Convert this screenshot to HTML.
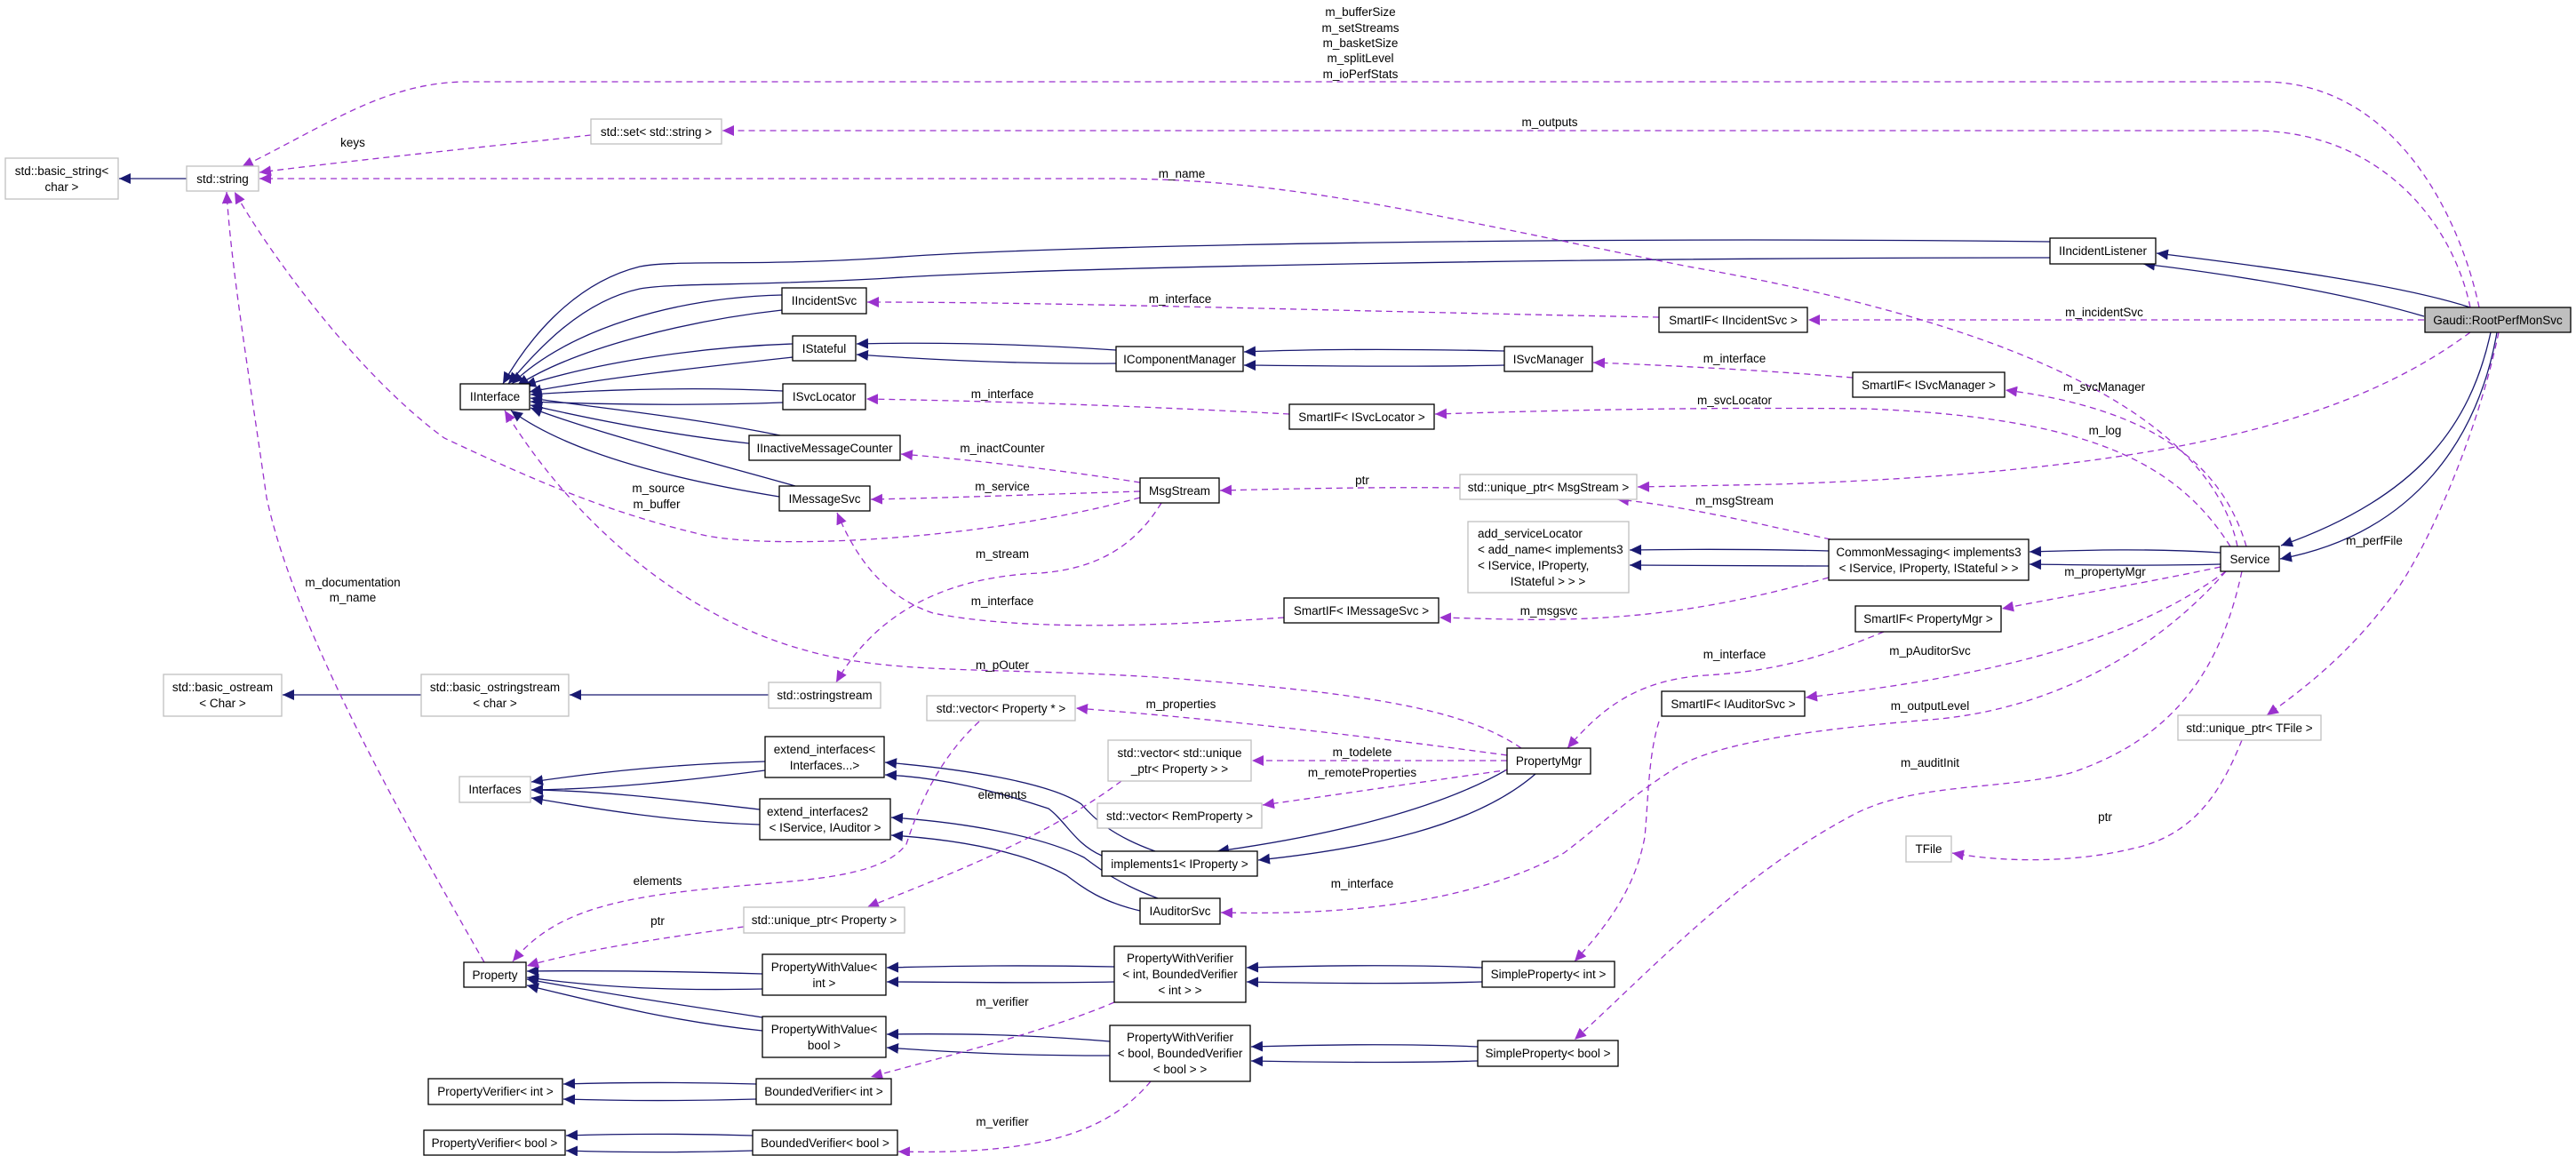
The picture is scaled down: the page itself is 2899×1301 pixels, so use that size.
<!DOCTYPE html>
<html><head><meta charset="utf-8"><style>
html,body{margin:0;padding:0;background:#fff}
svg{display:block}
text{font-family:"Liberation Sans",sans-serif;font-size:13.5px;fill:#000}
.n{fill:#fff;stroke:#000;stroke-width:1.3}
.g{fill:#fff;stroke:#bfbfbf;stroke-width:1.3}
.b{fill:none;stroke:#191970;stroke-width:1.3}
.p{fill:none;stroke:#9a32cd;stroke-width:1.3;stroke-dasharray:7,5}
</style></head><body>
<svg width="2899" height="1301" viewBox="0 0 2899 1301" xmlns="http://www.w3.org/2000/svg">
<defs>
<marker id="ab" markerUnits="userSpaceOnUse" markerWidth="14" markerHeight="12" refX="13" refY="6" orient="auto"><path d="M0,0 L13,6 L0,12 z" fill="#191970"/></marker>
<marker id="ap" markerUnits="userSpaceOnUse" markerWidth="14" markerHeight="12" refX="13" refY="6" orient="auto"><path d="M0,0 L13,6 L0,12 z" fill="#9a32cd"/></marker>
</defs>

<!-- blue inheritance edges -->
<g class="b" marker-end="url(#ab)">
<path d="M210,201 L134,201"/>
<path d="M474,782 L318,782"/>
<path d="M865,782 L641,782"/>
<path d="M2307,272 C1800,266 1200,275 1000,290 C850,300 760,292 720,300 C640,320 590,390 566,432"/>
<path d="M2307,290 C1800,290 1200,300 1000,313 C850,322 760,318 720,325 C650,340 600,400 572,432"/>
<path d="M880,332 C760,335 640,370 576,432"/>
<path d="M880,349 C780,360 650,390 582,434"/>
<path d="M892,387 C800,390 680,405 590,434"/>
<path d="M892,402 C800,412 680,425 596,441"/>
<path d="M881,440 C800,436 700,437 597,444"/>
<path d="M881,453 C800,456 700,456 597,452"/>
<path d="M878,490 C780,470 680,460 597,448"/>
<path d="M843,499 C760,490 680,475 597,456"/>
<path d="M895,547 C800,520 680,490 597,459"/>
<path d="M877,559 C760,540 640,510 575,462"/>
<path d="M1256,394 C1150,387 1050,385 964,387"/>
<path d="M1256,409 C1150,410 1050,405 964,399"/>
<path d="M1693,395 C1600,393 1500,392 1400,396"/>
<path d="M1693,411 C1600,413 1500,412 1400,411"/>
<path d="M2780,346 C2700,320 2550,300 2427,285"/>
<path d="M2728,356 C2640,330 2520,310 2412,297"/>
<path d="M2803,374 C2780,480 2720,560 2567,614"/>
<path d="M2810,374 C2790,490 2720,600 2566,629"/>
<path d="M2499,622 C2420,617 2350,619 2284,621"/>
<path d="M2499,635 C2420,637 2350,636 2284,635"/>
<path d="M2058,620 C1980,618 1900,618 1834,619"/>
<path d="M2058,637 C1980,637 1900,636 1834,636"/>
<path d="M861,857 C760,860 680,868 598,880"/>
<path d="M861,867 C760,880 680,888 598,889"/>
<path d="M855,911 C760,900 680,890 598,889"/>
<path d="M855,928 C760,925 680,912 598,898"/>
<path d="M1300,958 C1250,940 1230,920 1217,905 C1180,880 1080,865 996,858"/>
<path d="M1240,963 C1210,950 1200,925 1180,910 C1120,890 1060,875 996,872"/>
<path d="M1303,1011 C1260,995 1240,980 1220,965 C1170,940 1080,925 1003,920"/>
<path d="M1283,1025 C1240,1015 1220,1000 1200,985 C1150,958 1080,945 1003,940"/>
<path d="M1696,866 C1620,910 1500,940 1370,958"/>
<path d="M1728,871 C1660,930 1540,955 1416,968"/>
<path d="M858,1096 C760,1093 680,1092 593,1093"/>
<path d="M858,1113 C760,1115 680,1112 593,1100"/>
<path d="M858,1145 C760,1130 680,1118 593,1102"/>
<path d="M858,1160 C760,1150 680,1130 593,1109"/>
<path d="M1254,1088 C1150,1086 1080,1087 998,1089"/>
<path d="M1254,1105 C1150,1107 1080,1105 998,1105"/>
<path d="M1249,1172 C1150,1164 1080,1163 998,1164"/>
<path d="M1249,1188 C1150,1188 1080,1185 998,1179"/>
<path d="M1668,1089 C1600,1086 1500,1086 1403,1089"/>
<path d="M1668,1105 C1600,1107 1500,1107 1403,1105"/>
<path d="M1663,1178 C1600,1175 1500,1175 1408,1178"/>
<path d="M1663,1194 C1600,1196 1500,1196 1408,1194"/>
<path d="M851,1220 C780,1218 700,1218 634,1220"/>
<path d="M851,1237 C780,1239 700,1239 634,1237"/>
<path d="M847,1278 C780,1276 700,1276 637,1278"/>
<path d="M847,1295 C780,1297 700,1297 637,1295"/>
</g>

<!-- purple dashed edges -->
<g class="p" marker-end="url(#ap)">
<path d="M2790,346 C2770,250 2700,95 2550,92 L520,92 C430,95 370,140 272,188"/>
<path d="M2780,346 C2760,250 2680,150 2540,147 L813,147"/>
<path d="M665,152 C550,165 400,180 292,194"/>
<path d="M2518,615 C2490,480 2300,370 1900,300 C1600,240 1450,201 1250,201 L292,201"/>
<path d="M2728,360 L2035,360"/>
<path d="M1867,357 C1500,350 1200,340 976,340"/>
<path d="M2528,615 C2500,520 2420,460 2257,439"/>
<path d="M2085,425 C2000,418 1900,412 1793,408"/>
<path d="M2510,615 C2450,520 2350,470 2100,460 C1900,458 1750,462 1615,466"/>
<path d="M1451,466 C1300,458 1150,452 975,449"/>
<path d="M2780,374 C2650,470 2450,530 2000,545 L1843,548"/>
<path d="M1643,549 C1550,548 1450,550 1373,552"/>
<path d="M2060,607 C1980,590 1900,570 1820,562"/>
<path d="M1283,543 C1200,530 1100,518 1014,511"/>
<path d="M1283,553 C1180,556 1080,560 980,562"/>
<path d="M1283,560 C1100,610 850,620 783,600 C680,575 600,540 500,493 C400,420 300,280 264,216"/>
<path d="M1712,842 C1650,800 1550,780 1300,762 C1100,750 1000,760 900,730 C760,690 640,580 568,462"/>
<path d="M1307,566 C1280,610 1240,640 1170,645 C1050,650 980,700 941,768"/>
<path d="M1445,695 C1300,705 1150,710 1050,690 C990,670 960,620 942,577"/>
<path d="M2058,650 C1950,680 1850,700 1700,697 L1620,695"/>
<path d="M2499,638 C2420,655 2330,670 2253,685"/>
<path d="M2120,711 C2050,740 2000,755 1920,760 C1840,765 1800,800 1764,842"/>
<path d="M2505,643 C2400,720 2250,760 2032,785"/>
<path d="M2505,643 C2420,740 2300,800 2172,810 C2050,820 1930,835 1883,866 C1830,900 1800,930 1760,960 C1650,1020 1500,1030 1374,1027"/>
<path d="M1867,812 C1855,850 1855,900 1851,942 C1840,1000 1810,1040 1772,1082"/>
<path d="M2523,643 C2500,750 2450,830 2330,870 C2250,890 2150,880 2080,920 C1950,990 1850,1100 1772,1170"/>
<path d="M2812,374 C2790,480 2740,600 2700,660 C2650,730 2600,770 2551,805"/>
<path d="M2523,833 C2500,890 2470,940 2400,955 C2330,972 2250,970 2197,960"/>
<path d="M1696,850 C1550,830 1380,810 1211,797"/>
<path d="M1696,856 L1409,856"/>
<path d="M1700,866 C1600,880 1500,895 1421,906"/>
<path d="M1102,812 C1050,860 1030,920 1020,950 C990,990 900,990 800,1000 C680,1012 620,1030 577,1082"/>
<path d="M1262,879 C1180,940 1080,980 976,1021"/>
<path d="M837,1043 C750,1055 660,1068 593,1087"/>
<path d="M545,1083 C440,900 330,700 300,560 C280,420 260,300 255,216"/>
<path d="M1254,1128 C1180,1160 1060,1190 980,1212"/>
<path d="M1295,1217 C1250,1270 1180,1300 1011,1296"/>
</g>

<!-- nodes -->
<g>
<rect class="g" x="6" y="178" width="127" height="46"/><text x="69.5" y="197" text-anchor="middle">std::basic_string&lt;</text><text x="69.5" y="215" text-anchor="middle">char &gt;</text>
<rect class="g" x="210" y="187" width="81" height="28"/><text x="250.5" y="206" text-anchor="middle">std::string</text>
<rect class="g" x="665" y="134" width="147" height="28"/><text x="738.5" y="153" text-anchor="middle">std::set&lt; std::string &gt;</text>
<rect class="n" x="2307" y="268" width="119" height="29"/><text x="2366.5" y="287" text-anchor="middle">IIncidentListener</text>
<rect class="n" x="880" y="324" width="95" height="29"/><text x="927.5" y="343" text-anchor="middle">IIncidentSvc</text>
<rect class="n" x="1867" y="346" width="167" height="28"/><text x="1950.5" y="365" text-anchor="middle">SmartIF&lt; IIncidentSvc &gt;</text>
<rect x="2729" y="346" width="164" height="28" fill="#bfbfbf" stroke="#000" stroke-width="1.3"/><text x="2811" y="365" text-anchor="middle">Gaudi::RootPerfMonSvc</text>
<rect class="n" x="892" y="378" width="71" height="28"/><text x="927.5" y="397" text-anchor="middle">IStateful</text>
<rect class="n" x="1256" y="390" width="143" height="28"/><text x="1327.5" y="409" text-anchor="middle">IComponentManager</text>
<rect class="n" x="1693" y="390" width="99" height="28"/><text x="1742.5" y="409" text-anchor="middle">ISvcManager</text>
<rect class="n" x="2085" y="419" width="171" height="28"/><text x="2170.5" y="438" text-anchor="middle">SmartIF&lt; ISvcManager &gt;</text>
<rect class="n" x="518" y="432" width="78" height="29"/><text x="557" y="451" text-anchor="middle">IInterface</text>
<rect class="n" x="881" y="432" width="93" height="29"/><text x="927.5" y="451" text-anchor="middle">ISvcLocator</text>
<rect class="n" x="1451" y="455" width="163" height="28"/><text x="1532.5" y="474" text-anchor="middle">SmartIF&lt; ISvcLocator &gt;</text>
<rect class="n" x="843" y="490" width="170" height="28"/><text x="928" y="509" text-anchor="middle">IInactiveMessageCounter</text>
<rect class="n" x="1283" y="538" width="89" height="28"/><text x="1327.5" y="557" text-anchor="middle">MsgStream</text>
<rect class="g" x="1643" y="534" width="199" height="28"/><text x="1742.5" y="553" text-anchor="middle">std::unique_ptr&lt; MsgStream &gt;</text>
<rect class="n" x="877" y="547" width="102" height="28"/><text x="928" y="566" text-anchor="middle">IMessageSvc</text>
<rect class="g" x="1652" y="587" width="181" height="80"/><text x="1663" y="605">add_serviceLocator</text><text x="1663" y="623">&lt; add_name&lt; implements3</text><text x="1663" y="641">&lt; IService, IProperty,</text><text x="1742" y="659" text-anchor="middle">IStateful &gt; &gt; &gt;</text>
<rect class="n" x="2058" y="607" width="225" height="46"/><text x="2170.5" y="626" text-anchor="middle">CommonMessaging&lt; implements3</text><text x="2170.5" y="644" text-anchor="middle">&lt; IService, IProperty, IStateful &gt; &gt;</text>
<rect class="n" x="2499" y="615" width="66" height="28"/><text x="2532" y="634" text-anchor="middle">Service</text>
<rect class="n" x="1445" y="673" width="174" height="28"/><text x="1532" y="692" text-anchor="middle">SmartIF&lt; IMessageSvc &gt;</text>
<rect class="n" x="2088" y="682" width="164" height="29"/><text x="2170" y="701" text-anchor="middle">SmartIF&lt; PropertyMgr &gt;</text>
<rect class="g" x="184" y="759" width="133" height="47"/><text x="250.5" y="778" text-anchor="middle">std::basic_ostream</text><text x="250.5" y="796" text-anchor="middle">&lt; Char &gt;</text>
<rect class="g" x="474" y="759" width="166" height="47"/><text x="557" y="778" text-anchor="middle">std::basic_ostringstream</text><text x="557" y="796" text-anchor="middle">&lt; char &gt;</text>
<rect class="g" x="865" y="768" width="126" height="29"/><text x="928" y="787" text-anchor="middle">std::ostringstream</text>
<rect class="n" x="1870" y="778" width="161" height="28"/><text x="1950.5" y="797" text-anchor="middle">SmartIF&lt; IAuditorSvc &gt;</text>
<rect class="g" x="1043" y="783" width="167" height="28"/><text x="1126.5" y="802" text-anchor="middle">std::vector&lt; Property * &gt;</text>
<rect class="g" x="2451" y="805" width="161" height="28"/><text x="2531.5" y="824" text-anchor="middle">std::unique_ptr&lt; TFile &gt;</text>
<rect class="n" x="861" y="829" width="134" height="46"/><text x="928" y="848" text-anchor="middle">extend_interfaces&lt;</text><text x="928" y="866" text-anchor="middle">Interfaces...&gt;</text>
<rect class="g" x="1247" y="833" width="161" height="46"/><text x="1327.5" y="852" text-anchor="middle">std::vector&lt; std::unique</text><text x="1327.5" y="870" text-anchor="middle">_ptr&lt; Property &gt; &gt;</text>
<rect class="n" x="1696" y="842" width="94" height="29"/><text x="1743" y="861" text-anchor="middle">PropertyMgr</text>
<rect class="g" x="517" y="874" width="80" height="29"/><text x="557" y="893" text-anchor="middle">Interfaces</text>
<rect class="n" x="855" y="899" width="147" height="46"/><text x="863" y="918">extend_interfaces2</text><text x="928.5" y="936" text-anchor="middle">&lt; IService, IAuditor &gt;</text>
<rect class="g" x="1235" y="904" width="185" height="28"/><text x="1327.5" y="923" text-anchor="middle">std::vector&lt; RemProperty &gt;</text>
<rect class="g" x="2145" y="941" width="51" height="29"/><text x="2170.5" y="960" text-anchor="middle">TFile</text>
<rect class="n" x="1240" y="958" width="175" height="28"/><text x="1327.5" y="977" text-anchor="middle">implements1&lt; IProperty &gt;</text>
<rect class="n" x="1283" y="1011" width="90" height="29"/><text x="1328" y="1030" text-anchor="middle">IAuditorSvc</text>
<rect class="g" x="837" y="1021" width="181" height="29"/><text x="927.5" y="1040" text-anchor="middle">std::unique_ptr&lt; Property &gt;</text>
<rect class="n" x="1254" y="1065" width="148" height="63"/><text x="1328" y="1083" text-anchor="middle">PropertyWithVerifier</text><text x="1328" y="1101" text-anchor="middle">&lt; int, BoundedVerifier</text><text x="1328" y="1119" text-anchor="middle">&lt; int &gt; &gt;</text>
<rect class="n" x="858" y="1074" width="139" height="46"/><text x="927.5" y="1093" text-anchor="middle">PropertyWithValue&lt;</text><text x="927.5" y="1111" text-anchor="middle">int &gt;</text>
<rect class="n" x="522" y="1083" width="70" height="28"/><text x="557" y="1102" text-anchor="middle">Property</text>
<rect class="n" x="1668" y="1082" width="149" height="29"/><text x="1742.5" y="1101" text-anchor="middle">SimpleProperty&lt; int &gt;</text>
<rect class="n" x="858" y="1144" width="139" height="46"/><text x="927.5" y="1163" text-anchor="middle">PropertyWithValue&lt;</text><text x="927.5" y="1181" text-anchor="middle">bool &gt;</text>
<rect class="n" x="1249" y="1154" width="158" height="63"/><text x="1328" y="1172" text-anchor="middle">PropertyWithVerifier</text><text x="1328" y="1190" text-anchor="middle">&lt; bool, BoundedVerifier</text><text x="1328" y="1208" text-anchor="middle">&lt; bool &gt; &gt;</text>
<rect class="n" x="1663" y="1171" width="158" height="29"/><text x="1742" y="1190" text-anchor="middle">SimpleProperty&lt; bool &gt;</text>
<rect class="n" x="482" y="1214" width="151" height="29"/><text x="557.5" y="1233" text-anchor="middle">PropertyVerifier&lt; int &gt;</text>
<rect class="n" x="851" y="1214" width="152" height="29"/><text x="927" y="1233" text-anchor="middle">BoundedVerifier&lt; int &gt;</text>
<rect class="n" x="477" y="1272" width="159" height="28"/><text x="556.5" y="1291" text-anchor="middle">PropertyVerifier&lt; bool &gt;</text>
<rect class="n" x="847" y="1272" width="163" height="28"/><text x="928.5" y="1291" text-anchor="middle">BoundedVerifier&lt; bool &gt;</text>
</g>

<!-- edge labels -->
<g text-anchor="middle">
<text x="1531" y="18">m_bufferSize</text>
<text x="1531" y="36">m_setStreams</text>
<text x="1531" y="53">m_basketSize</text>
<text x="1531" y="70">m_splitLevel</text>
<text x="1531" y="88">m_ioPerfStats</text>
<text x="1744" y="142">m_outputs</text>
<text x="397" y="165">keys</text>
<text x="1330" y="200">m_name</text>
<text x="1328" y="341">m_interface</text>
<text x="2368" y="356">m_incidentSvc</text>
<text x="1952" y="408">m_interface</text>
<text x="2368" y="440">m_svcManager</text>
<text x="1128" y="448">m_interface</text>
<text x="1952" y="455">m_svcLocator</text>
<text x="2369" y="489">m_log</text>
<text x="1128" y="509">m_inactCounter</text>
<text x="1533" y="545">ptr</text>
<text x="1128" y="552">m_service</text>
<text x="741" y="554">m_source</text>
<text x="739" y="572">m_buffer</text>
<text x="1952" y="568">m_msgStream</text>
<text x="2672" y="613">m_perfFile</text>
<text x="1128" y="628">m_stream</text>
<text x="2369" y="648">m_propertyMgr</text>
<text x="397" y="660">m_documentation</text>
<text x="397" y="677">m_name</text>
<text x="1128" y="681">m_interface</text>
<text x="1743" y="692">m_msgsvc</text>
<text x="2172" y="737">m_pAuditorSvc</text>
<text x="1952" y="741">m_interface</text>
<text x="1128" y="753">m_pOuter</text>
<text x="1329" y="797">m_properties</text>
<text x="2172" y="799">m_outputLevel</text>
<text x="1533" y="851">m_todelete</text>
<text x="2172" y="863">m_auditInit</text>
<text x="1533" y="874">m_remoteProperties</text>
<text x="1128" y="899">elements</text>
<text x="2369" y="924">ptr</text>
<text x="740" y="996">elements</text>
<text x="1533" y="999">m_interface</text>
<text x="740" y="1041">ptr</text>
<text x="1128" y="1132">m_verifier</text>
<text x="1128" y="1267">m_verifier</text>
</g>
</svg>
</body></html>
